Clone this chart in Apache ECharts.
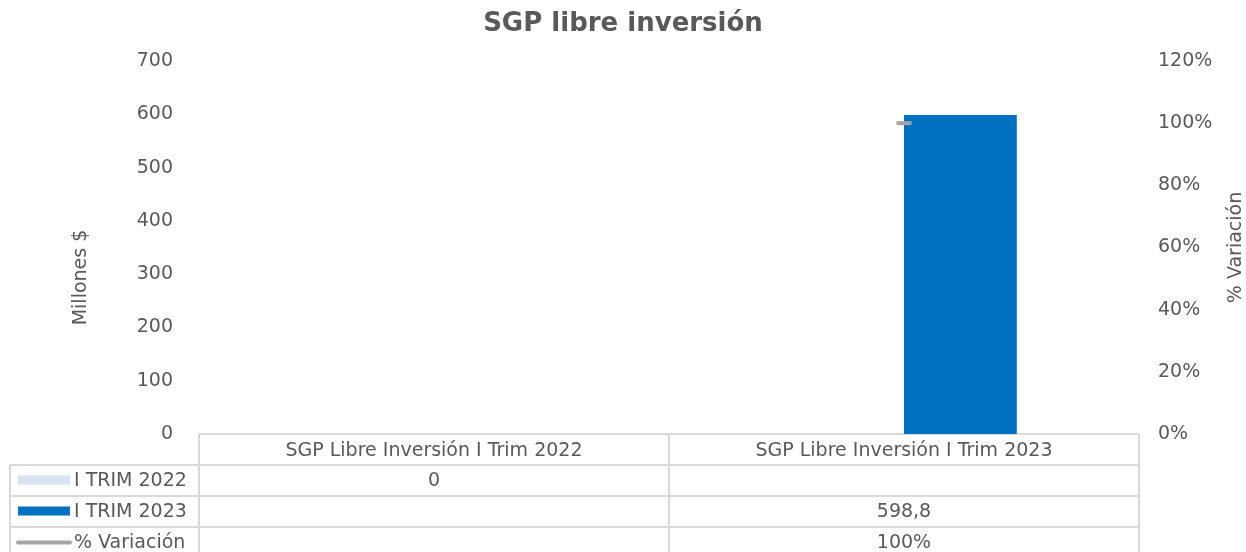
<!DOCTYPE html>
<html>
<head>
<meta charset="utf-8">
<script src="https://cdn.jsdelivr.net/npm/echarts@6/dist/echarts.min.js"></script>
<style>
html, body { margin: 0; padding: 0; background: #fff; }
#main { width: 1246px; height: 552px; }
</style>
</head>
<body>
<div id="main"></div>
<script>
var categories = ['SGP Libre Inversión I Trim 2022', 'SGP Libre Inversión I Trim 2023'];
var seriesNames = ['I TRIM 2022', 'I TRIM 2023', '% Variación'];
var trim2022 = [0, null];
var trim2023 = [null, 598.8];
var variacion = [null, 100];

var textColor = '#595959';
var gridColor = '#d9d9d9';
var font = 'Verdana, "DejaVu Sans", sans-serif';

// plot area, matches the grid below
var gLeft = 199, gRight = 1139, gTop = 61, gBottom = 434;
var rowH = 31, tableLeft = 10;

function fmtNum(v) {
	if (v === null) return '';
	return String(v).replace('.', ',');
}
function fmtPct(v) {
	if (v === null) return '';
	return v + '%';
}

var myChart = echarts.init(document.getElementById('main'));

// data table under the axis
var graphics = [];
var tableBottom = gBottom + rowH * 4;
function hline(y, x1, x2) {
	graphics.push({ type: 'line', shape: { x1: x1, y1: y, x2: x2, y2: y }, style: { stroke: gridColor, lineWidth: 2 }, silent: true });
}
function vline(x, y1, y2) {
	graphics.push({ type: 'line', shape: { x1: x, y1: y1, x2: x, y2: y2 }, style: { stroke: gridColor, lineWidth: 2 }, silent: true });
}
hline(gBottom, gLeft, gRight);
for (var r = 1; r <= 4; r++) hline(gBottom + rowH * r, tableLeft, gRight);
vline(tableLeft, gBottom + rowH, tableBottom);
vline(gLeft, gBottom, tableBottom);
vline((gLeft + gRight) / 2, gBottom, tableBottom);
vline(gRight, gBottom, tableBottom);

var rows = [
	{ name: seriesNames[0], vals: trim2022.map(fmtNum) },
	{ name: seriesNames[1], vals: trim2023.map(fmtNum) },
	{ name: seriesNames[2], vals: variacion.map(fmtPct) }
];
var colW = (gRight - gLeft) / categories.length;
rows.forEach(function (row, i) {
	var cy = gBottom + rowH * (i + 1) + rowH / 2;
	if (i < 2) {
		graphics.push({ type: 'rect', shape: { x: 18, y: cy - 5, width: 52, height: 9 }, style: { fill: i === 0 ? '#dae3f3' : '#0070c0' }, silent: true });
	} else {
		graphics.push({ type: 'line', shape: { x1: 18, y1: cy, x2: 70, y2: cy }, style: { stroke: '#a5a5a5', lineWidth: 4, lineCap: 'round' }, silent: true });
	}
	graphics.push({ type: 'text', x: 74, y: cy + 1, style: { text: row.name, fill: textColor, font: '19px ' + font, textVerticalAlign: 'middle' }, silent: true });
	row.vals.forEach(function (v, j) {
		graphics.push({ type: 'text', x: gLeft + colW * (j + 0.5), y: cy + 1, style: { text: v, fill: textColor, font: '19px ' + font, textAlign: 'center', textVerticalAlign: 'middle' }, silent: true });
	});
});

myChart.setOption({
	animation: false,
	backgroundColor: '#fff',
	title: {
		text: 'SGP libre inversión',
		left: 'center',
		top: 6,
		textStyle: { fontFamily: font, fontSize: 26, fontWeight: 'bold', color: textColor }
	},
	grid: { left: gLeft, right: 1246 - gRight, top: gTop, bottom: 552 - gBottom, outerBoundsMode: 'none' },
	xAxis: {
		type: 'category',
		data: categories,
		axisLine: { show: false },
		axisTick: { show: false },
		axisLabel: { margin: 8, fontSize: 19, fontFamily: font, color: textColor }
	},
	yAxis: [{
		type: 'value',
		min: 0, max: 700, interval: 100,
		name: 'Millones $',
		nameLocation: 'middle',
		nameGap: 108,
		nameTextStyle: { fontSize: 19, fontFamily: font, color: textColor, padding: [0, 0, 0, -60] },
		splitLine: { show: false },
		axisLine: { show: false },
		axisTick: { show: false },
		axisLabel: { margin: 26, fontSize: 19, fontFamily: font, color: textColor, padding: [4, 0, 0, 0] }
	}, {
		type: 'value',
		min: 0, max: 120, interval: 20,
		name: '% Variación',
		nameLocation: 'middle',
		nameGap: 88,
		nameTextStyle: { fontSize: 19, fontFamily: font, color: textColor },
		splitLine: { show: false },
		axisLine: { show: false },
		axisTick: { show: false },
		axisLabel: { margin: 19, fontSize: 19, fontFamily: font, color: textColor, padding: [4, 0, 0, 0], formatter: '{value}%' }
	}],
	series: [{
		name: seriesNames[0],
		type: 'bar',
		data: trim2022,
		barGap: '0%',
		barCategoryGap: '52%',
		itemStyle: { color: '#dae3f3' }
	}, {
		name: seriesNames[1],
		type: 'bar',
		data: trim2023,
		barGap: '0%',
		barCategoryGap: '52%',
		itemStyle: { color: '#0070c0' }
	}, {
		name: seriesNames[2],
		type: 'line',
		yAxisIndex: 1,
		data: variacion,
		symbol: 'rect',
		symbolSize: [15, 4],
		z: 10,
		itemStyle: { color: '#a5a5a5' },
		lineStyle: { color: '#a5a5a5', width: 4 }
	}],
	graphic: graphics
});
</script>
</body>
</html>
